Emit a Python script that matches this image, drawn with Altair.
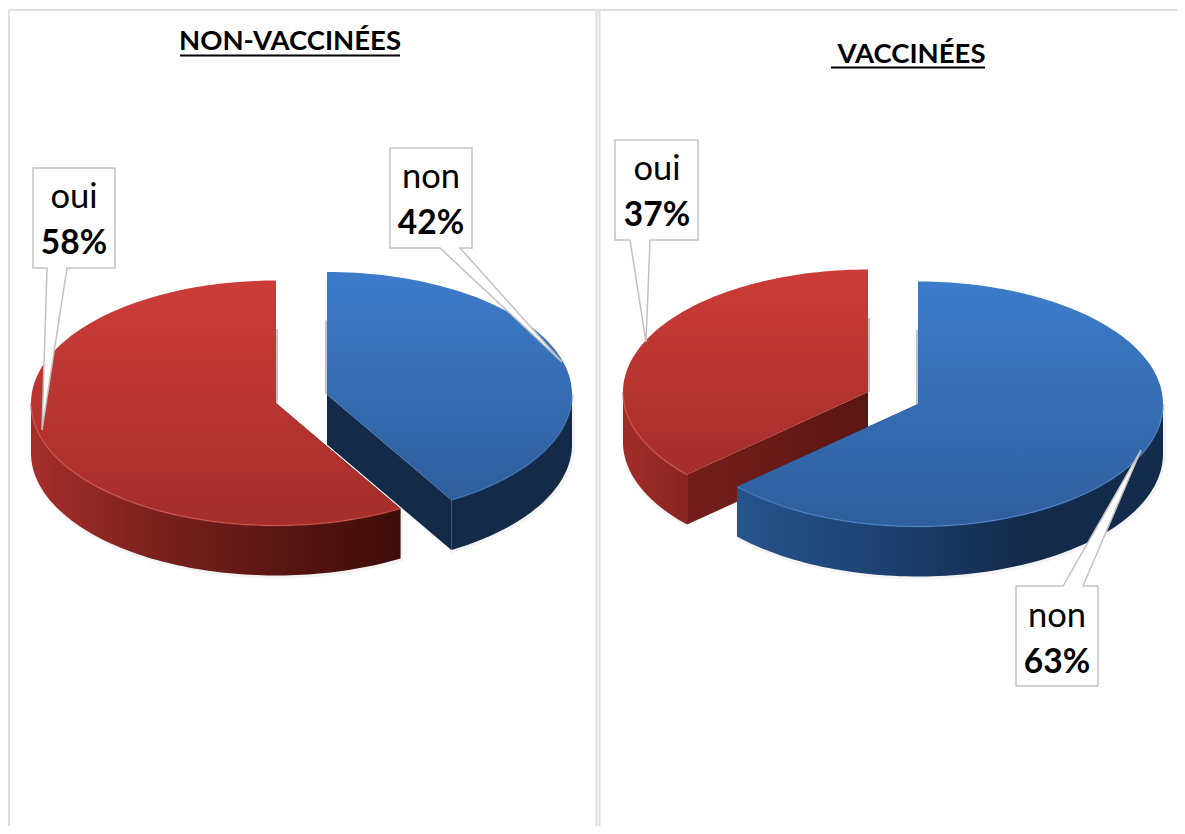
import altair as alt
import numpy as np
import pandas as pd

PANEL_TITLES = ["NON-VACCINÉES", "VACCINÉES"]
CATEGORIES = ["non", "oui"]
NON_VACCINEES = [42, 58]
VACCINEES = [63, 37]
LABELS_NV = ["42%", "58%"]
LABELS_V = ["63%", "37%"]

W, H = 1169, 818
X = alt.X("x:Q", axis=None, scale=alt.Scale(domain=[8, 8 + W], nice=False, zero=False, padding=0))
Y = alt.Y("y:Q", axis=None, scale=alt.Scale(domain=[8 + H, 8], nice=False, zero=False, padding=0))
DEPTH = 50
RX, RY = 245, 122.5


def grad(c, horizontal=False):
    n = len(c)
    stops = [alt.GradientStop(offset=i / (n - 1), color=col) for i, col in enumerate(c)]
    if horizontal:
        return alt.LinearGradient(gradient="linear", x1=0, x2=1, y1=0, y2=0, stops=stops)
    return alt.LinearGradient(gradient="linear", x1=0, x2=0, y1=0, y2=1, stops=stops)


def poly(pts, fill, stroke="transparent", sw=0, opacity=1):
    df = pd.DataFrame(pts, columns=["x", "y"])
    df["i"] = range(len(df))
    return alt.Chart(df).mark_line(
        fill=fill, stroke=stroke, strokeWidth=sw, interpolate="linear-closed",
        opacity=opacity, clip=False,
    ).encode(x=X, y=Y, order=alt.Order("i:Q"))


def stroke_line(pts, color, sw, opacity=1):
    df = pd.DataFrame(pts, columns=["x", "y"])
    df["i"] = range(len(df))
    return alt.Chart(df).mark_line(color=color, strokeWidth=sw, opacity=opacity).encode(
        x=X, y=Y, order=alt.Order("i:Q"))


def arc(cx, cy, a0, a1):
    t = np.radians(np.linspace(a0, a1, 90))
    return np.column_stack([cx + RX * np.sin(t), cy - RY * np.cos(t)])


def slice_layers(cx, cy, a0, a1, top, rim, cut, edge):
    """a0..a1 clockwise degrees from twelve o'clock, derived from the value."""
    out = []
    rim_a0, rim_a1 = max(a0, 90), min(a1, 270)
    front = arc(cx, cy, rim_a0, rim_a1)
    rim_pts = np.vstack([front, (front + [0, DEPTH])[::-1]])
    # soft shadow
    out.append(poly(rim_pts + [1, 1], "#808080", "#808080", 4, 0.08))
    # flat cut face
    end_a = a1 if a0 == 0 else a0
    e = arc(cx, cy, end_a, end_a)[0]
    c = np.array([cx, cy])
    out.append(poly(np.array([c, e, e + [0, DEPTH], c + [0, DEPTH]]), cut))
    out.append(poly(rim_pts, rim))
    body = np.vstack([[c], arc(cx, cy, a0, a1)])
    out.append(poly(body, top))
    out.append(stroke_line(front, edge, 1.5, 0.7))
    # thin shadow along the straight edge at twelve o'clock
    off = -1 if a0 == 0 else 1
    out.append(stroke_line(np.array([c + [off, 0], [cx + off, cy - 74]]), "#8a8a8a", 2, 0.5))
    return out


RED_TOP = grad(["#CC3C38", "#A42D2A"])
BLUE_TOP = grad(["#3D7CCB", "#2F5E9C"])
BLUE_DARK = "#132A49"

layers = []
# background frame
frame = [
    ([9, 10], [1177, 10]),
    ([9, 10], [9, 826]),
    ([596.5, 10], [596.5, 826]),
    ([599.5, 10], [599.5, 826]),
]
for a, b in frame:
    layers.append(stroke_line(np.array([a, b]), "#DEDEDE", 2))

# left panel
a_nv = NON_VACCINEES[0] * 3.6 - 1.7
layers += slice_layers(327, 394.5, 0, a_nv, BLUE_TOP, BLUE_DARK, BLUE_DARK, "#3F78BE")
layers += slice_layers(276, 403, a_nv, 360, RED_TOP,
                       grad(["#A62F2B", "#7A211E", "#5A1613", "#3E0C09"], True),
                       grad(["#3E0C09", "#3E0C09"]), "#D2564F")
# right panel
a_v = VACCINEES[0] * 3.6 + 0.8
layers += slice_layers(868, 392, a_v, 360, RED_TOP,
                       grad(["#A02D29", "#8A2521"], True),
                       grad(["#751E1B", "#5B1613"], True), "#D2564F")
layers += slice_layers(918, 404, 0, a_v, BLUE_TOP,
                       grad(["#26548C", "#1D4271", "#132A4A", "#132B4C"], True),
                       BLUE_DARK, "#4A86CF")

# callouts: box + pointer
CALLOUT = [
    (33, 115, 168, 268, 47, 67, 42, 430, "bottom"),
    (390, 472, 148, 248, 440, 460, 562, 362, "bottom"),
    (615, 698, 140, 240, 630, 650, 646, 342, "bottom"),
    (1016, 1098, 586, 686, 1063, 1083, 1141, 450, "top"),
]
for x0, x1, y0, y1, pl, pr, tx, ty, side in CALLOUT:
    if side == "bottom":
        pts = [[x0, y0], [x1, y0], [x1, y1], [pr, y1], [tx, ty], [pl, y1], [x0, y1]]
    else:
        pts = [[x0, y0], [pl, y0], [tx, ty], [pr, y0], [x1, y0], [x1, y1], [x0, y1]]
    layers.append(poly(np.array(pts), "#FFFFFF", "#C2C2C2", 1.5))

# texts
names = pd.DataFrame({
    "x": [431, 74, 1057, 657],
    "y": [188, 208, 627, 180],
    "t": [CATEGORIES[0], CATEGORIES[1], CATEGORIES[0], CATEGORIES[1]],
})
pcts = pd.DataFrame({
    "x": [431, 74, 1057, 657],
    "y": [234, 254, 673, 226],
    "t": [LABELS_NV[0], LABELS_NV[1], LABELS_V[0], LABELS_V[1]],
})
layers.append(alt.Chart(names).mark_text(font="Lato", fontSize=34.5, color="#000000", baseline="alphabetic", align="center").encode(x=X, y=Y, text="t:N"))
layers.append(alt.Chart(pcts).mark_text(font="Lato", fontSize=33.5, fontWeight="bold", color="#000000", baseline="alphabetic", align="center").encode(x=X, y=Y, text="t:N"))

titles = pd.DataFrame({"x": [290, 911.5], "y": [50, 63], "t": PANEL_TITLES})
layers.append(alt.Chart(titles).mark_text(font="Lato", fontSize=27.5, fontWeight="bold", color="#000000", baseline="alphabetic", align="center").encode(x=X, y=Y, text="t:N"))
layers.append(stroke_line(np.array([[180, 55.5], [400, 55.5]]), "#000000", 2))
layers.append(stroke_line(np.array([[831, 67.5], [985, 67.5]]), "#000000", 2))

chart = alt.layer(*layers).properties(
    width=W, height=H, padding=0,
    background="#FFFFFF",
    autosize=alt.AutoSizeParams(type="none"),
).configure_view(stroke=None)
chart.save("out.html", embed_options={"renderer": "svg", "actions": False})
